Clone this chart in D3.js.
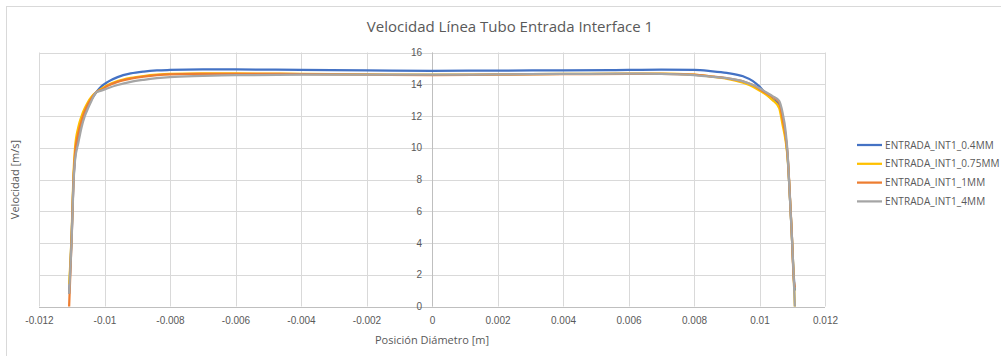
<!DOCTYPE html>
<html>
<head>
<meta charset="utf-8">
<script src="https://cdn.jsdelivr.net/npm/d3@7"></script>
<style>
  body { margin: 0; background: #fff; }
  svg { font-family: "Open Sans", "Liberation Sans", sans-serif; }
</style>
</head>
<body>
<div id="chart"></div>
<script>
// Data: position across the diameter [m] and velocity [m/s] per series
const seriesNames = ["ENTRADA_INT1_0.4MM", "ENTRADA_INT1_0.75MM", "ENTRADA_INT1_1MM", "ENTRADA_INT1_4MM"];
const seriesColors = ["#4472C4", "#FFC000", "#ED7D31", "#A5A5A5"];

const posX = [-0.01108, -0.01100, -0.01095, -0.0109, -0.0108, -0.0107, -0.0106, -0.0105, -0.0104, -0.01025,
  -0.0101, -0.0099, -0.0096, -0.0092, -0.0088, -0.0084, -0.008, -0.007, -0.006, -0.004, -0.002, 0,
  0.002, 0.004, 0.006, 0.007, 0.008, 0.0085, 0.009, 0.0095, 0.0098, 0.0100, 0.0102, 0.0104, 0.0106,
  0.0107, 0.0108, 0.01086, 0.0109, 0.01098, 0.01105, 0.01108];

const vel04 = [0.8, 4.6, 7.8, 9.4, 10.7, 11.6, 12.2, 12.7, 13.05, 13.5,
  13.85, 14.15, 14.45, 14.68, 14.8, 14.87, 14.9, 14.93, 14.93, 14.9, 14.87, 14.85,
  14.86, 14.88, 14.9, 14.92, 14.9, 14.83, 14.72, 14.5, 14.2, 13.85, 13.4, 13.05, 12.7,
  11.8, 10.6, 9.4, 8.0, 4.8, 1.8, 1.0];
const vel075 = [1.4, 4.8, 8.2, 10.0, 11.3, 12.0, 12.5, 12.9, 13.2, 13.5,
  13.7, 13.95, 14.2, 14.4, 14.52, 14.6, 14.65, 14.68, 14.68, 14.66, 14.62, 14.6,
  14.62, 14.65, 14.67, 14.67, 14.6, 14.5, 14.35, 14.1, 13.85, 13.6, 13.35, 13.0, 12.5,
  11.5, 10.4, 9.3, 8.0, 4.8, 1.6, 0.0];
const vel1 = [0.0, 4.5, 7.8, 9.6, 10.9, 11.7, 12.3, 12.75, 13.1, 13.5,
  13.65, 13.9, 14.15, 14.35, 14.48, 14.57, 14.62, 14.65, 14.66, 14.64, 14.6, 14.58,
  14.6, 14.63, 14.66, 14.66, 14.6, 14.5, 14.38, 14.18, 13.95, 13.7, 13.45, 13.2, 12.85,
  11.9, 10.7, 9.5, 8.1, 4.9, 1.6, 1.2];
const vel4 = [0.8, 4.4, 7.6, 9.2, 10.3, 11.3, 12.0, 12.5, 12.95, 13.5,
  13.6, 13.75, 13.95, 14.15, 14.28, 14.38, 14.45, 14.52, 14.57, 14.6, 14.6, 14.6,
  14.62, 14.65, 14.67, 14.66, 14.58, 14.48, 14.38, 14.18, 13.95, 13.75, 13.5, 13.25, 12.95,
  12.25, 11.0, 9.6, 8.0, 4.8, 1.6, 0.0];

const seriesValues = [vel04, vel075, vel1, vel4];

const xTicks = [-0.012, -0.01, -0.008, -0.006, -0.004, -0.002, 0, 0.002, 0.004, 0.006, 0.008, 0.01, 0.012];
const yTicks = [0, 2, 4, 6, 8, 10, 12, 14, 16];

const W = 1001, H = 356;
const plot = { left: 39, right: 825, top: 52.5, bottom: 306.5 };
const textColor = "#595959";

const svg = d3.select("#chart")
  .append("svg")
  .attr("width", W)
  .attr("height", H);

// Chart area border (extends past the window on the right/bottom)
svg.append("rect")
  .attr("x", 6.5).attr("y", 6.5)
  .attr("width", W + 20).attr("height", H + 20)
  .attr("fill", "#fff")
  .attr("stroke", "#D9D9D9");

const xScale = d3.scaleLinear().domain([-0.012, 0.012]).range([plot.left, plot.right]);
const yScale = d3.scaleLinear().domain([0, 16]).range([plot.bottom, plot.top]);

// Gridlines
svg.append("g")
  .selectAll("line")
  .data(xTicks)
  .enter()
  .append("line")
  .attr("x1", d => Math.round(xScale(d)) + 0.5)
  .attr("x2", d => Math.round(xScale(d)) + 0.5)
  .attr("y1", plot.top)
  .attr("y2", plot.bottom)
  .attr("stroke", "#D9D9D9");

svg.append("g")
  .selectAll("line")
  .data(yTicks)
  .enter()
  .append("line")
  .attr("x1", plot.left)
  .attr("x2", plot.right)
  .attr("y1", d => Math.round(yScale(d)) + 0.5)
  .attr("y2", d => Math.round(yScale(d)) + 0.5)
  .attr("stroke", "#D9D9D9");

// Axis lines: horizontal at 0, vertical at x = 0
svg.append("line")
  .attr("x1", plot.left).attr("x2", plot.right)
  .attr("y1", Math.round(yScale(0)) + 0.5).attr("y2", Math.round(yScale(0)) + 0.5)
  .attr("stroke", "#BFBFBF");
svg.append("line")
  .attr("x1", Math.round(xScale(0)) + 0.5).attr("x2", Math.round(xScale(0)) + 0.5)
  .attr("y1", plot.top).attr("y2", plot.bottom)
  .attr("stroke", "#BFBFBF");

// X tick labels
const xAxis = d3.axisBottom(xScale)
  .tickValues(xTicks)
  .tickSize(0)
  .tickPadding(10)
  .tickFormat(d => d === 0 ? "0" : String(+d.toFixed(3)));

const xAxisGroup = svg.append("g")
  .attr("transform", `translate(0, ${plot.bottom})`)
  .call(xAxis);
xAxisGroup.select(".domain").remove();
xAxisGroup.selectAll("text")
  .style("font-size", "10px")
  .attr("fill", textColor);

// Y tick labels sit beside the vertical axis at x = 0
const yAxis = d3.axisLeft(yScale)
  .tickValues(yTicks)
  .tickSize(0)
  .tickPadding(10);

const yAxisGroup = svg.append("g")
  .attr("transform", `translate(${xScale(0)}, 0)`)
  .call(yAxis);
yAxisGroup.select(".domain").remove();
yAxisGroup.selectAll("text")
  .style("font-size", "10px")
  .attr("fill", textColor);

// Lines
const line = d3.line()
  .x((d, i) => xScale(posX[i]))
  .y(d => yScale(d))
  .curve(d3.curveMonotoneX);

svg.append("g")
  .selectAll("path")
  .data(seriesValues)
  .enter()
  .append("path")
  .attr("d", d => line(d))
  .attr("fill", "none")
  .attr("stroke", (d, i) => seriesColors[i])
  .attr("stroke-width", 2.25)
  .attr("stroke-linejoin", "round");

// Title
svg.append("text")
  .attr("x", 510)
  .attr("y", 32)
  .attr("text-anchor", "middle")
  .style("font-size", "15px")
  .attr("fill", textColor)
  .text("Velocidad Línea Tubo Entrada Interface 1");

// Axis titles
svg.append("text")
  .attr("x", xScale(0))
  .attr("y", 344)
  .attr("text-anchor", "middle")
  .style("font-size", "11px")
  .attr("fill", textColor)
  .text("Posición Diámetro [m]");

svg.append("text")
  .attr("transform", `translate(19, ${(plot.top + plot.bottom) / 2}) rotate(-90)`)
  .attr("text-anchor", "middle")
  .style("font-size", "11px")
  .attr("fill", textColor)
  .text("Velocidad [m/s]");

// Legend
const legend = svg.append("g")
  .selectAll("g")
  .data(seriesNames)
  .enter()
  .append("g")
  .attr("transform", (d, i) => `translate(857, ${145 + i * 18.8})`);

legend.append("line")
  .attr("x1", 0).attr("x2", 25)
  .attr("y1", 0).attr("y2", 0)
  .attr("stroke", (d, i) => seriesColors[i])
  .attr("stroke-width", 2.25);

legend.append("text")
  .attr("x", 28)
  .attr("y", 3.5)
  .style("font-size", "10px")
  .style("letter-spacing", "0.1px")
  .attr("fill", textColor)
  .text(d => d);
</script>
</body>
</html>
